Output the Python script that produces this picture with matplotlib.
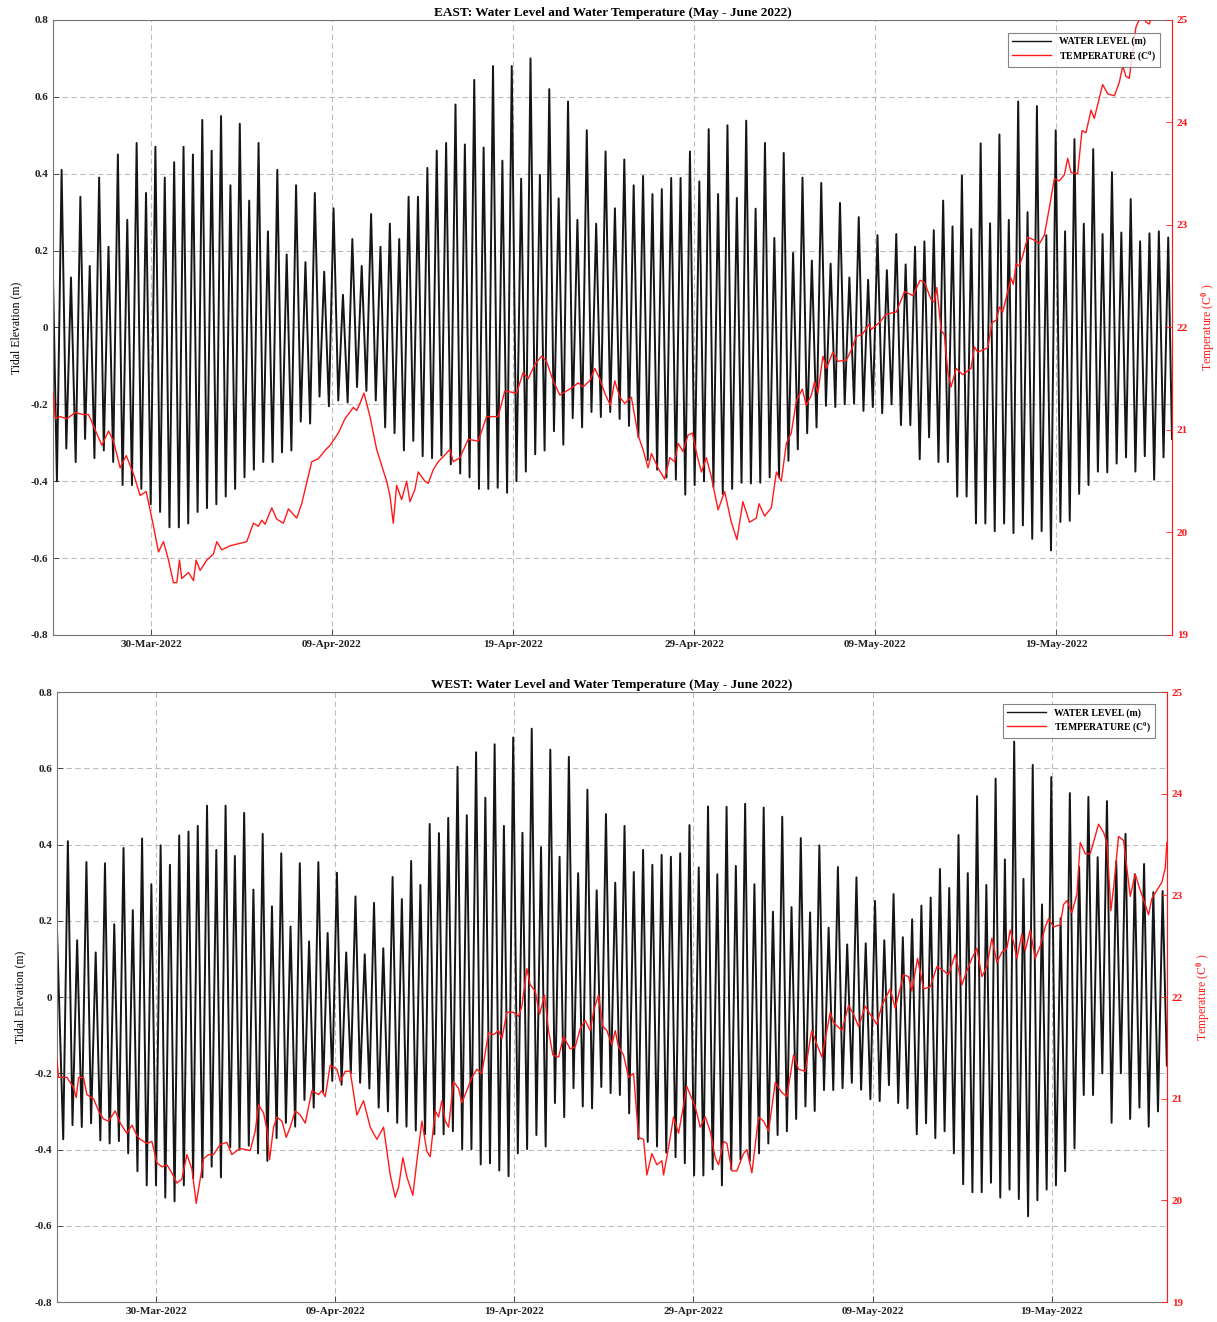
"""
east / west tide gauge: water level and water temperature
two stacked panels, water level on the left axis, temperature on the right
"""

from datetime import datetime
import numpy as np
import matplotlib
matplotlib.use("Agg")
import matplotlib.pyplot as plt
import matplotlib.dates as mdates

# days are counted from this date
t_base = datetime(2022, 3, 24)

# tide extremes: first low water (day) and half a tidal cycle (days)
first_low = 0.81
half_cycle = 0.259

# ---------------- EAST ----------------
east_start = (0.59, 0.14)
east_end = (62.40, -0.29)
east_low = [-0.40, -0.315, -0.35, -0.29, -0.34, -0.32, -0.35, -0.41, -0.41, -0.42,
            -0.46, -0.48, -0.52, -0.52, -0.51, -0.48, -0.47, -0.46, -0.44, -0.42,
            -0.39, -0.37, -0.35, -0.35, -0.325, -0.32, -0.245, -0.25, -0.18, -0.205,
            -0.19, -0.195, -0.155, -0.165, -0.19, -0.26, -0.275, -0.32, -0.295, -0.335,
            -0.34, -0.333, -0.356, -0.38, -0.39, -0.42, -0.42, -0.417, -0.43, -0.40,
            -0.375, -0.33, -0.32, -0.27, -0.305, -0.236, -0.26, -0.22, -0.233, -0.22,
            -0.238, -0.256, -0.285, -0.345, -0.37, -0.39, -0.396, -0.435, -0.41, -0.40,
            -0.415, -0.433, -0.42, -0.404, -0.406, -0.404, -0.39, -0.39, -0.347, -0.317,
            -0.275, -0.26, -0.204, -0.207, -0.20, -0.198, -0.217, -0.207, -0.223, -0.20,
            -0.254, -0.254, -0.343, -0.286, -0.35, -0.35, -0.44, -0.44, -0.51, -0.51, -0.53,
            -0.51, -0.535, -0.515, -0.55, -0.53, -0.58, -0.506, -0.503, -0.433, -0.41,
            -0.375, -0.377, -0.354, -0.338, -0.375, -0.335, -0.396, -0.338]
east_high = [0.41, 0.13, 0.34, 0.16, 0.39, 0.21, 0.45, 0.28, 0.48, 0.35,
             0.47, 0.39, 0.43, 0.47, 0.45, 0.54, 0.46, 0.55, 0.37, 0.53,
             0.33, 0.48, 0.25, 0.41, 0.19, 0.37, 0.17, 0.35, 0.145, 0.31,
             0.085, 0.23, 0.16, 0.295, 0.21, 0.27, 0.23, 0.34, 0.34, 0.415,
             0.46, 0.48, 0.58, 0.476, 0.644, 0.468, 0.68, 0.434, 0.68, 0.387,
             0.70, 0.397, 0.62, 0.336, 0.588, 0.28, 0.513, 0.27, 0.458, 0.31,
             0.437, 0.37, 0.394, 0.347, 0.36, 0.389, 0.389, 0.458, 0.38, 0.516,
             0.347, 0.526, 0.337, 0.538, 0.309, 0.48, 0.233, 0.454, 0.194, 0.39,
             0.174, 0.376, 0.166, 0.324, 0.13, 0.287, 0.124, 0.24, 0.149, 0.243,
             0.164, 0.21, 0.224, 0.253, 0.33, 0.263, 0.395, 0.256, 0.479, 0.271, 0.502,
             0.28, 0.588, 0.30, 0.576, 0.24, 0.513, 0.25, 0.49, 0.27, 0.464,
             0.243, 0.404, 0.247, 0.334, 0.224, 0.245, 0.25, 0.234]
east_temp_day = [0.589, 0.717, 0.993, 1.361, 1.821, 2.281, 2.557, 2.925, 3.293, 3.661,
                 3.937, 4.305, 4.636, 5.04, 5.408, 5.740, 6.144, 6.420, 6.696, 6.972,
                 7.248, 7.432, 7.579, 7.708, 8.076, 8.352, 8.499, 8.720, 9.088, 9.456,
                 9.640, 9.915, 10.375, 11.296, 11.664, 11.940, 12.124, 12.307, 12.675, 12.951,
                 13.319, 13.595, 14.055, 14.331, 14.884, 15.251, 15.618, 15.894, 16.354, 16.722,
                 17.182, 17.366, 17.550, 17.770, 18.102, 18.470, 19.023, 19.205, 19.388, 19.575,
                 19.851, 20.127, 20.309, 20.585, 20.767, 21.137, 21.32, 21.59, 21.87, 22.15,
                 22.52, 22.70, 23.07, 23.53, 24.08, 24.54, 25.18, 25.55, 26.20, 26.56,
                 26.84, 27.21, 27.58, 27.85, 28.22, 28.59, 28.96, 29.32, 29.60, 29.87,
                 30.24, 30.52, 30.79, 31.07, 31.38, 31.62, 31.90, 32.17, 32.54, 32.91,
                 33.18, 33.46, 33.65, 34.01, 34.38, 34.66, 34.93, 35.12, 35.39, 35.67,
                 35.91, 36.17, 36.41, 36.68, 36.96, 37.33, 37.69, 38.06, 38.37, 38.70,
                 39.07, 39.44, 39.59, 39.90, 40.27, 40.55, 40.82, 41.10, 41.37, 41.65,
                 41.98, 42.20, 42.48, 42.66, 42.84, 43.12, 43.31, 43.67, 43.95, 44.41,
                 44.69, 44.96, 45.33, 45.66, 45.79, 46.25, 46.62, 47.17, 47.63, 48.09,
                 48.49, 48.73, 49.10, 49.28, 49.41, 49.65, 49.83, 50.02, 50.20, 50.48,
                 50.84, 51.30, 51.49, 51.67, 52.22, 52.47, 52.69, 52.87, 53.05, 53.33,
                 53.51, 53.64, 53.79, 53.97, 54.16, 54.43, 54.71, 55.08, 55.35, 55.63,
                 55.90, 56.18, 56.46, 56.64, 56.83, 57.19, 57.43, 57.65, 57.93, 58.11,
                 58.39, 58.57, 58.85, 59.22, 59.49, 59.68, 59.86, 60.04, 60.23, 60.41,
                 60.63, 60.78, 60.96, 61.15, 61.33, 62.40]
east_temp = [21.38, 21.11, 21.13, 21.11, 21.17, 21.15, 21.15, 21.00, 20.85, 20.99,
             20.89, 20.63, 20.75, 20.57, 20.36, 20.40, 20.06, 19.81, 19.91, 19.73,
             19.51, 19.51, 19.73, 19.55, 19.61, 19.53, 19.73, 19.63, 19.73, 19.79,
             19.91, 19.83, 19.87, 19.91, 20.09, 20.06, 20.12, 20.08, 20.24, 20.13,
             20.09, 20.23, 20.14, 20.28, 20.69, 20.72, 20.80, 20.85, 20.97, 21.11,
             21.22, 21.19, 21.26, 21.36, 21.13, 20.81, 20.50, 20.36, 20.09, 20.46,
             20.32, 20.50, 20.30, 20.42, 20.59, 20.50, 20.48, 20.61, 20.69, 20.74,
             20.81, 20.69, 20.73, 20.91, 20.89, 21.13, 21.13, 21.38, 21.36, 21.56,
             21.50, 21.64, 21.72, 21.67, 21.48, 21.34, 21.38, 21.42, 21.46, 21.42,
             21.48, 21.60, 21.50, 21.36, 21.24, 21.48, 21.32, 21.26, 21.32, 20.95,
             20.81, 20.63, 20.77, 20.63, 20.52, 20.73, 20.69, 20.87, 20.79, 20.95,
             20.97, 20.75, 20.59, 20.73, 20.54, 20.22, 20.40, 20.10, 19.93, 20.30,
             20.10, 20.14, 20.28, 20.16, 20.24, 20.59, 20.50, 20.87, 20.97, 21.28,
             21.40, 21.24, 21.34, 21.47, 21.36, 21.72, 21.60, 21.76, 21.67, 21.68,
             21.78, 21.91, 21.94, 22.03, 21.98, 22.05, 22.13, 22.15, 22.35, 22.31,
             22.46, 22.44, 22.27, 22.25, 22.39, 21.97, 21.93, 21.56, 21.42, 21.60,
             21.54, 21.60, 21.81, 21.76, 21.80, 22.05, 22.07, 22.20, 22.15, 22.35,
             22.48, 22.42, 22.62, 22.60, 22.70, 22.88, 22.86, 22.82, 22.90, 23.17,
             23.45, 23.43, 23.49, 23.65, 23.51, 23.50, 23.92, 23.90, 24.12, 24.04,
             24.24, 24.37, 24.28, 24.26, 24.39, 24.55, 24.45, 24.43, 24.69, 24.93,
             25.02, 25.06, 24.98, 24.96, 25.10, 25.30]

# ---------------- WEST ----------------
west_start = (0.46, 0.18)
west_end = (62.43, -0.18)
west_low = [-0.373, -0.336, -0.341, -0.331, -0.376, -0.384, -0.378, -0.41, -0.457, -0.494,
            -0.494, -0.526, -0.536, -0.494, -0.475, -0.473, -0.445, -0.473, -0.394,
            -0.40, -0.39, -0.41, -0.43, -0.37, -0.33, -0.34, -0.27, -0.29, -0.25,
            -0.22, -0.23, -0.20, -0.225, -0.24, -0.29, -0.30, -0.33, -0.34, -0.35, -0.36,
            -0.36, -0.36, -0.352, -0.399, -0.399, -0.439, -0.436, -0.455, -0.47, -0.41,
            -0.399, -0.362, -0.392, -0.278, -0.315, -0.239, -0.287, -0.292, -0.236, -0.252,
            -0.257, -0.305, -0.373, -0.38, -0.392, -0.408, -0.42, -0.436, -0.468, -0.468,
            -0.452, -0.494, -0.452, -0.426, -0.431, -0.41, -0.384, -0.362, -0.352, -0.32,
            -0.287, -0.299, -0.244, -0.244, -0.239, -0.225, -0.243, -0.268, -0.273, -0.231,
            -0.278, -0.292, -0.36, -0.331, -0.37, -0.352, -0.41, -0.491, -0.512, -0.512, -0.487,
            -0.526, -0.505, -0.53, -0.575, -0.533, -0.505, -0.494, -0.457, -0.397, -0.257,
            -0.257, -0.20, -0.33, -0.20, -0.32, -0.29, -0.34, -0.30]
west_high = [0.409, 0.149, 0.354, 0.117, 0.351, 0.191, 0.391, 0.228, 0.416, 0.296,
             0.398, 0.347, 0.424, 0.434, 0.449, 0.502, 0.386, 0.502, 0.37,
             0.483, 0.282, 0.428, 0.238, 0.377, 0.185, 0.351, 0.146, 0.354, 0.168,
             0.326, 0.117, 0.264, 0.112, 0.247, 0.128, 0.315, 0.257, 0.357, 0.294, 0.454,
             0.43, 0.47, 0.604, 0.477, 0.642, 0.523, 0.663, 0.449, 0.681, 0.431,
             0.704, 0.393, 0.649, 0.368, 0.630, 0.325, 0.544, 0.28, 0.48, 0.30,
             0.449, 0.328, 0.386, 0.347, 0.373, 0.368, 0.377, 0.451, 0.34, 0.50,
             0.322, 0.499, 0.344, 0.507, 0.296, 0.497, 0.224, 0.473, 0.236, 0.417,
             0.222, 0.398, 0.182, 0.341, 0.138, 0.314, 0.141, 0.252, 0.149, 0.27,
             0.157, 0.204, 0.24, 0.261, 0.336, 0.286, 0.425, 0.325, 0.527, 0.294, 0.573,
             0.361, 0.67, 0.31, 0.609, 0.243, 0.577, 0.207, 0.535, 0.341, 0.525,
             0.367, 0.514, 0.356, 0.428, 0.322, 0.349, 0.275, 0.278]
west_temp_day = [0.456, 0.549, 1.014, 1.387, 1.535, 1.666, 1.945, 2.131, 2.503, 2.782,
                 3.062, 3.341, 3.713, 3.992, 4.364, 4.644, 4.923, 5.109, 5.481, 5.760,
                 6.040, 6.319, 6.598, 6.877, 7.156, 7.435, 7.715, 7.994, 8.236, 8.459,
                 8.645, 8.924, 9.203, 9.576, 9.948, 10.227, 10.506, 10.692, 11.251, 11.530,
                 11.716, 11.995, 12.181, 12.330, 12.553, 12.740, 13.019, 13.261, 13.484, 13.763,
                 14.042, 14.322, 14.694, 15.066, 15.252, 15.438, 15.718, 16.090, 16.276, 16.555,
                 16.834, 17.206, 17.578, 17.951, 18.323, 18.695, 19.068, 19.347, 19.533, 19.775,
                 19.998, 20.333, 20.557, 20.836, 21.115, 21.300, 21.580, 21.766, 21.952, 22.138,
                 22.324, 22.603, 22.882, 23.068, 23.255, 23.627, 23.906, 24.185, 24.557, 24.836,
                 25.116, 25.302, 25.581, 25.953, 26.232, 26.419, 26.698, 26.884, 27.163, 27.405,
                 27.684, 27.907, 28.149, 28.466, 28.745, 29.117, 29.396, 29.676, 29.955, 30.234,
                 30.457, 30.699, 30.941, 31.165, 31.444, 31.630, 31.816, 32.095, 32.375, 32.654,
                 32.933, 33.212, 33.398, 33.677, 33.957, 34.236, 34.329, 34.608, 34.887, 35.166,
                 35.632, 36.097, 36.376, 36.655, 36.935, 37.214, 37.400, 37.679, 37.865, 38.144,
                 38.423, 38.795, 38.982, 39.261, 39.633, 39.912, 40.191, 40.564, 40.936, 41.215,
                 41.587, 41.867, 42.239, 42.518, 42.611, 42.853, 43.170, 43.635, 43.821, 44.286,
                 44.659, 44.938, 45.217, 45.589, 45.868, 46.241, 46.520, 46.985, 47.264, 47.730,
                 48.009, 48.195, 48.511, 48.846, 49.219, 49.591, 49.963, 50.242, 50.614, 50.987,
                 51.266, 51.545, 51.824, 52.103, 52.383, 52.662, 52.941, 53.219, 53.499, 53.685,
                 53.871, 54.057, 54.336, 54.522, 54.801, 55.081, 55.360, 55.639, 55.825, 56.104,
                 56.476, 56.663, 56.849, 57.128, 57.407, 57.593, 57.872, 58.152, 58.617, 58.896,
                 59.082, 59.305, 59.454, 59.733, 60.013, 60.236, 60.385, 60.664, 60.943, 61.222,
                 61.408, 61.594, 61.874, 62.153, 62.339, 62.432]
west_temp = [21.39, 21.21, 21.21, 21.11, 21.01, 21.21, 21.21, 21.04, 21.00, 20.88,
             20.80, 20.78, 20.88, 20.76, 20.66, 20.74, 20.64, 20.60, 20.56, 20.58,
             20.37, 20.33, 20.35, 20.27, 20.17, 20.21, 20.45, 20.31, 19.97, 20.21,
             20.41, 20.45, 20.45, 20.55, 20.57, 20.45, 20.49, 20.51, 20.49, 20.68,
             20.94, 20.86, 20.70, 20.40, 20.72, 20.82, 20.78, 20.62, 20.72, 20.88,
             20.84, 20.76, 21.08, 21.04, 21.08, 21.02, 21.33, 21.29, 21.17, 21.27,
             21.27, 20.84, 20.98, 20.72, 20.60, 20.72, 20.25, 20.03, 20.13, 20.42,
             20.23, 20.05, 20.39, 20.78, 20.48, 20.43, 20.88, 20.82, 20.98, 20.78,
             20.72, 21.17, 21.10, 20.96, 21.04, 21.21, 21.29, 21.25, 21.65, 21.63,
             21.67, 21.59, 21.85, 21.85, 21.81, 21.91, 22.28, 22.12, 22.06, 21.83,
             22.02, 21.67, 21.43, 21.41, 21.61, 21.49, 21.51, 21.69, 21.77, 21.67,
             21.89, 22.02, 21.71, 21.67, 21.53, 21.67, 21.51, 21.43, 21.21, 21.25,
             20.62, 20.60, 20.25, 20.46, 20.35, 20.39, 20.25, 20.52, 20.82, 20.66,
             21.12, 20.92, 20.72, 20.82, 20.68, 20.42, 20.35, 20.58, 20.56, 20.29,
             20.29, 20.46, 20.50, 20.27, 20.82, 20.78, 20.68, 21.16, 21.06, 21.02,
             21.43, 21.29, 21.27, 21.59, 21.67, 21.55, 21.41, 21.85, 21.75, 21.67,
             21.92, 21.83, 21.71, 21.91, 21.83, 21.73, 21.92, 22.08, 21.89, 22.22,
             22.20, 22.06, 22.38, 22.08, 22.10, 22.30, 22.26, 22.22, 22.42, 22.12,
             22.26, 22.38, 22.48, 22.20, 22.30, 22.58, 22.34, 22.44, 22.48, 22.66,
             22.54, 22.38, 22.62, 22.46, 22.66, 22.38, 22.50, 22.69, 22.77, 22.69,
             22.71, 22.91, 22.95, 22.83, 23.01, 23.52, 23.41, 23.41, 23.70, 23.62,
             23.52, 22.85, 23.07, 23.58, 23.54, 23.21, 22.99, 23.21, 23.05, 22.91,
             22.81, 22.97, 23.05, 23.13, 23.27, 23.52]

# tick dates (days after t_base) -> 30-Mar ... 19-May
tick_days = [6, 16, 26, 36, 46, 56]

plt.rcParams['font.family'] = ['Liberation Serif', 'DejaVu Serif']
plt.rcParams['font.weight'] = 'bold'
plt.rcParams['mathtext.fontset'] = 'custom'
plt.rcParams['mathtext.rm'] = 'Liberation Serif:bold'
plt.rcParams['mathtext.it'] = 'Liberation Serif:bold'
plt.rcParams['mathtext.bf'] = 'Liberation Serif:bold'

base_num = mdates.date2num(t_base)
RED = '#ff1a1a'


def tide_series(start, lows, highs, end):
    #low and high water alternate every half cycle
    days = [start[0]]
    vals = [start[1]]
    for k in range(len(highs)):
        days.append(first_low + 2 * k * half_cycle)
        vals.append(lows[k])
        days.append(first_low + (2 * k + 1) * half_cycle)
        vals.append(highs[k])
    days.append(end[0])
    vals.append(end[1])
    return base_num + np.array(days), np.array(vals)


def draw_panel(rect, title, start, lows, highs, end, temp_day, temp, leg_anchor):
    ax = fig.add_axes(rect)
    t, wl = tide_series(start, lows, highs, end)
    l1, = ax.plot(t, wl, color='#151515', lw=1.4, solid_joinstyle='round',
                  label='WATER LEVEL (m)')
    ax.set_xlim(base_num + start[0], base_num + end[0])
    ax.set_ylim(-0.8, 0.8)
    ax.set_yticks(np.arange(-0.8, 0.81, 0.2))
    ax.set_yticklabels(['-0.8', '-0.6', '-0.4', '-0.2', '0', '0.2', '0.4', '0.6', '0.8'])
    ax.set_xticks(base_num + np.array(tick_days))
    ax.xaxis.set_major_formatter(mdates.DateFormatter('%d-%b-%Y'))
    ax.grid(True, color='#bdbdbd', ls=(0, (5, 3)), lw=0.8)
    ax.tick_params(direction='in', labelsize=8, length=4, width=0.6, colors='#333333',
                   labelcolor='#222222')
    for s in ax.spines.values():
        s.set_color('#777777')
        s.set_linewidth(0.8)
    ax.set_ylabel('Tidal Elevation (m)', fontsize=8.5, labelpad=6)
    ax.set_title(title, fontsize=9.5, fontweight='bold', pad=3)

    ax2 = ax.twinx()
    l2, = ax2.plot(base_num + np.array(temp_day), temp, color=RED, lw=1.0,
                   label='TEMPERATURE (C$^{0}$)')
    ax2.set_ylim(19, 25)
    ax2.set_yticks(range(19, 26))
    ax2.tick_params(direction='in', labelsize=8, length=4, width=0.6, colors=RED)
    ax2.spines['right'].set_color(RED)
    for s in ['left', 'top', 'bottom']:
        ax2.spines[s].set_visible(False)
    ax2.set_ylabel('Temperature (C$^{0}$ )', color=RED, fontsize=8.5, labelpad=8)

    leg = ax2.legend(handles=[l1, l2], loc='upper right', bbox_to_anchor=leg_anchor,
                     borderaxespad=0, fontsize=7, frameon=True, fancybox=False,
                     handlelength=4.0, labelspacing=0.25, borderpad=0.4)
    leg.get_frame().set_edgecolor('#666666')
    leg.get_frame().set_linewidth(0.8)
    for h in leg.get_lines():
        h.set_linewidth(1.0)
    return ax, ax2


fig = plt.figure(figsize=(12.17, 13.22), dpi=100)

draw_panel([0.0435, 0.5197, 0.9195, 0.4652],
           'EAST: Water Level and Water Temperature (May - June 2022)',
           east_start, east_low, east_high, east_end, east_temp_day, east_temp,
           (0.989, 0.979))
draw_panel([0.0468, 0.0151, 0.912, 0.4614],
           'WEST: Water Level and Water Temperature (May - June 2022)',
           west_start, west_low, west_high, west_end, west_temp_day, west_temp,
           (0.989, 0.980))

fig.savefig('out.png', dpi=100)
